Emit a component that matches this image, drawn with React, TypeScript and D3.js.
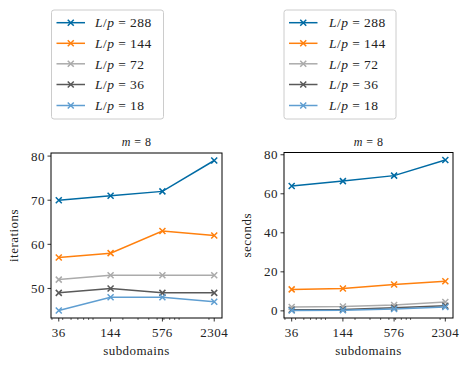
import React from "react";
import * as d3 from "d3";

const subdomains = [36, 144, 576, 2304];
const seriesLabels = ["288", "144", "72", "36", "18"];
const colors = ["#006BA4", "#FF800E", "#ABABAB", "#595959", "#5F9ED1"];
const iterations288 = [70, 71, 72, 79];
const iterations144 = [57, 58, 63, 62];
const iterations72 = [52, 53, 53, 53];
const iterations36 = [49, 50, 49, 49];
const iterations18 = [45, 48, 48, 47];
const seconds288 = [64, 66.5, 69.3, 77.3];
const seconds144 = [11, 11.5, 13.5, 15.2];
const seconds72 = [2, 2.2, 3, 4.5];
const seconds36 = [0.6, 0.7, 1.6, 2.6];
const seconds18 = [0.2, 0.3, 1.0, 2.0];
const iterTicks = [50, 60, 70, 80];
const secTicks = [0, 20, 40, 60, 80];
const title = "8";

const FONT = "'Liberation Serif', 'DejaVu Serif', serif";
const LS = 0.45;

type PanelProps = {
  left: number; right: number; top: number; bottom: number;
  series: number[][]; yTicks: number[]; yLabel: string;
};

function Marker({ x, y, color }: { x: number; y: number; color: string }) {
  const s = 3;
  return (
    <path d={`M${x - s},${y - s}L${x + s},${y + s}M${x - s},${y + s}L${x + s},${y - s}`}
      stroke={color} strokeWidth={1.5} fill="none" />
  );
}

function Panel({ left, right, top, bottom, series, yTicks, yLabel }: PanelProps) {
  const lo = d3.min(series.flat())!;
  const hi = d3.max(series.flat())!;
  const pad = (hi - lo) * 0.05;
  const y = d3.scaleLinear().domain([lo - pad, hi + pad]).range([bottom, top]);
  const lmin = Math.log(subdomains[0]);
  const lmax = Math.log(subdomains[subdomains.length - 1]);
  const lp = (lmax - lmin) * 0.05;
  const x = d3.scaleLog().domain([Math.exp(lmin - lp), Math.exp(lmax + lp)]).range([left, right]);
  const [d0, d1] = x.domain();
  const minor: number[] = [];
  for (let dec = 10; dec <= 10000; dec *= 10) {
    for (let k = 2; k <= 9; k++) {
      const v = k * dec;
      if (v >= d0 && v <= d1) minor.push(v);
    }
  }
  const line = d3.line<number>().x((_, i) => x(subdomains[i])).y((d) => y(d));
  const cx = (left + right) / 2;
  const cy = (top + bottom) / 2;
  return (
    <g fontFamily={FONT} fill="#222" letterSpacing={LS}>
      <text x={cx} y={top - 7} textAnchor="middle" fontSize={12}>
        <tspan fontStyle="italic">m</tspan> = {title}
      </text>
      {series.map((s, si) => (
        <g key={si}>
          <path d={line(s)!} stroke={colors[si]} strokeWidth={1.5} fill="none" />
          {s.map((v, i) => (
            <Marker key={i} x={x(subdomains[i])} y={y(v)} color={colors[si]} />
          ))}
        </g>
      ))}
      <rect x={left} y={top} width={right - left} height={bottom - top} fill="none" stroke="#000" strokeWidth={1} />
      {yTicks.map((t) => (
        <g key={t}>
          <line x1={left} x2={left - 3.5} y1={y(t)} y2={y(t)} stroke="#000" strokeWidth={0.8} />
          <text x={left - 6} y={y(t)} dy="0.35em" textAnchor="end" fontSize={13}>{t}</text>
        </g>
      ))}
      {minor.map((t) => (
        <line key={t} x1={x(t)} x2={x(t)} y1={bottom} y2={bottom + 2} stroke="#000" strokeWidth={0.6} />
      ))}
      {subdomains.map((t) => (
        <g key={t}>
          <line x1={x(t)} x2={x(t)} y1={bottom} y2={bottom + 3.5} stroke="#000" strokeWidth={0.8} />
          <text x={x(t)} y={bottom + 19} textAnchor="middle" fontSize={13}>{t}</text>
        </g>
      ))}
      <text x={cx} y={bottom + 37} textAnchor="middle" fontSize={13}>subdomains</text>
      <text transform={`translate(${left - 33},${cy}) rotate(-90)`} textAnchor="middle" fontSize={13}>{yLabel}</text>
    </g>
  );
}

function Legend({ x0, lineX1, lineX2, textX }: { x0: number; lineX1: number; lineX2: number; textX: number }) {
  const rows = [22.7, 43.3, 63.8, 84.5, 105.5];
  return (
    <g fontFamily={FONT} letterSpacing={LS}>
      <rect x={x0} y={10} width={112} height={109} rx={2.5} fill="#fff" stroke="#ccc" strokeWidth={1} />
      {seriesLabels.map((l, i) => (
        <g key={l}>
          <line x1={lineX1} x2={lineX2} y1={rows[i]} y2={rows[i]} stroke={colors[i]} strokeWidth={1.5} />
          <Marker x={(lineX1 + lineX2) / 2} y={rows[i]} color={colors[i]} />
          <text x={textX} y={rows[i]} dy="0.35em" fontSize={13.5} fill="#222">
            <tspan fontStyle="italic">L</tspan>/<tspan fontStyle="italic">p</tspan> = {l}
          </text>
        </g>
      ))}
    </g>
  );
}

export default function App() {
  return (
    <svg width={470} height={368} style={{ position: "absolute", left: 0, top: 0 }}>
      <rect width={470} height={368} fill="#fff" />
      <Legend x0={51.5} lineX1={56.5} lineX2={85} textX={95} />
      <Legend x0={284} lineX1={289} lineX2={317.5} textX={329} />
      <Panel left={51} right={222} top={153} bottom={318}
        series={[iterations288, iterations144, iterations72, iterations36, iterations18]}
        yTicks={iterTicks} yLabel="iterations" />
      <Panel left={284} right={453} top={152.5} bottom={318}
        series={[seconds288, seconds144, seconds72, seconds36, seconds18]}
        yTicks={secTicks} yLabel="seconds" />
    </svg>
  );
}
